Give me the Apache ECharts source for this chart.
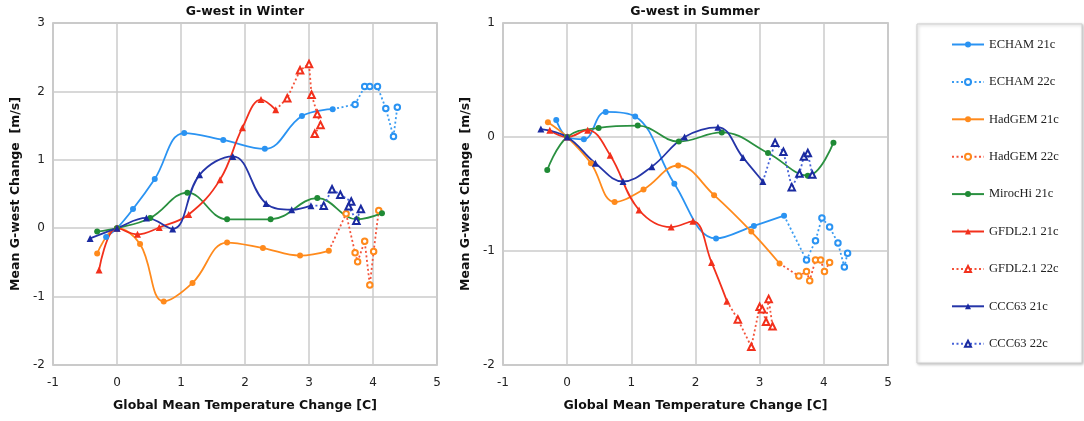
<!DOCTYPE html>
<html>
<head>
    <meta charset="utf-8" />
    <title>G-west</title>
    <style>
        html, body { margin: 0; padding: 0; background: #fff; }
        #main { width: 1084px; height: 421px; }
    </style>
    <script src="https://cdn.jsdelivr.net/npm/echarts@6/dist/echarts.min.js"></script>
</head>
<body>
    <div id="main"></div>
    <script type="text/javascript">
        // data: [temperature change, G-west change]
        const echamW21 = [[-0.17, -0.13], [0, 0], [0.25, 0.28], [0.59, 0.72], [1.05, 1.39], [1.66, 1.29], [2.31, 1.16], [2.89, 1.64], [3.37, 1.74]];
        const echamW22 = [[3.72, 1.81], [3.87, 2.07], [3.95, 2.07], [4.07, 2.07], [4.2, 1.75], [4.32, 1.34], [4.38, 1.77]];
        const hadW21 = [[-0.31, -0.37], [0, 0], [0.36, -0.23], [0.73, -1.07], [1.18, -0.8], [1.72, -0.21], [2.28, -0.29], [2.86, -0.4], [3.31, -0.33]];
        const hadW22 = [[3.58, 0.21], [3.72, -0.36], [3.76, -0.49], [3.87, -0.19], [3.95, -0.83], [4.01, -0.34], [4.09, 0.26]];
        const mirocW21 = [[-0.31, -0.05], [0, 0], [0.52, 0.15], [1.1, 0.52], [1.72, 0.13], [2.4, 0.13], [3.13, 0.44], [3.75, 0.13], [4.14, 0.22]];
        const gfdlW21 = [[-0.28, -0.61], [0, 0], [0.32, -0.09], [0.66, 0.01], [1.12, 0.2], [1.61, 0.71], [1.96, 1.47], [2.25, 1.88], [2.48, 1.73]];
        const gfdlW22 = [[2.66, 1.9], [2.86, 2.31], [3.0, 2.4], [3.04, 1.95], [3.13, 1.67], [3.18, 1.51], [3.09, 1.38]];
        const cccW21 = [[-0.42, -0.15], [0, 0], [0.46, 0.15], [0.87, -0.01], [1.29, 0.78], [1.81, 1.05], [2.33, 0.36], [2.73, 0.27], [3.03, 0.33]];
        const cccW22 = [[3.23, 0.33], [3.36, 0.57], [3.49, 0.49], [3.66, 0.39], [3.62, 0.32], [3.74, 0.11], [3.81, 0.28]];

        const echamS21 = [[-0.17, 0.15], [0, 0], [0.26, -0.02], [0.6, 0.22], [1.06, 0.18], [1.67, -0.41], [2.32, -0.89], [2.91, -0.78], [3.38, -0.69]];
        const echamS22 = [[3.73, -1.08], [3.87, -0.91], [3.97, -0.71], [4.09, -0.79], [4.22, -0.93], [4.32, -1.14], [4.37, -1.02]];
        const hadS21 = [[-0.3, 0.13], [0, 0], [0.37, -0.23], [0.74, -0.57], [1.19, -0.46], [1.73, -0.25], [2.29, -0.51], [2.87, -0.83], [3.31, -1.11]];
        const hadS22 = [[3.61, -1.22], [3.73, -1.18], [3.78, -1.26], [3.87, -1.08], [3.95, -1.08], [4.01, -1.18], [4.09, -1.1]];
        const mirocS21 = [[-0.31, -0.29], [0, 0], [0.49, 0.08], [1.1, 0.1], [1.74, -0.04], [2.41, 0.04], [3.13, -0.14], [3.75, -0.34], [4.15, -0.05]];
        const gfdlS21 = [[-0.27, 0.06], [0, 0], [0.32, 0.06], [0.67, -0.16], [1.12, -0.64], [1.62, -0.79], [1.96, -0.74], [2.25, -1.1], [2.49, -1.44]];
        const gfdlS22 = [[2.66, -1.6], [2.87, -1.84], [3.0, -1.49], [3.04, -1.51], [3.1, -1.62], [3.14, -1.42], [3.2, -1.66]];
        const cccS21 = [[-0.41, 0.07], [0, 0], [0.44, -0.23], [0.87, -0.39], [1.32, -0.26], [1.83, 0.0], [2.35, 0.085], [2.74, -0.18], [3.05, -0.39]];
        const cccS22 = [[3.24, -0.05], [3.37, -0.13], [3.5, -0.44], [3.62, -0.32], [3.69, -0.17], [3.75, -0.14], [3.82, -0.33]];

        const winter = { echam21: echamW21, echam22: echamW22, had21: hadW21, had22: hadW22, miroc21: mirocW21, gfdl21: gfdlW21, gfdl22: gfdlW22, ccc21: cccW21, ccc22: cccW22 };
        const summer = { echam21: echamS21, echam22: echamS22, had21: hadS21, had22: hadS22, miroc21: mirocS21, gfdl21: gfdlS21, gfdl22: gfdlS22, ccc21: cccS21, ccc22: cccS22 };

        // legend order, symbols and colours
        const defs = [
            { key: 'echam21', name: 'ECHAM 21c', color: '#2a93f2', line: '#2a93f2', symbol: 'circle' },
            { key: 'echam22', name: 'ECHAM 22c', color: '#2a93f2', line: '#3a9cf2', symbol: 'emptyCircle', from: 'echam21' },
            { key: 'had21', name: 'HadGEM 21c', color: '#ff8a1c', line: '#ff8a1c', symbol: 'circle' },
            { key: 'had22', name: 'HadGEM 22c', color: '#ff8a1c', line: '#f4533a', symbol: 'emptyCircle', from: 'had21' },
            { key: 'miroc21', name: 'MirocHi 21c', color: '#1f8a35', line: '#2a9040', symbol: 'circle' },
            { key: 'gfdl21', name: 'GFDL2.1 21c', color: '#f2301c', line: '#f2301c', symbol: 'triangle' },
            { key: 'gfdl22', name: 'GFDL2.1 22c', color: '#f2301c', line: '#f4533a', symbol: 'emptyTriangle', from: 'gfdl21' },
            { key: 'ccc21', name: 'CCC63 21c', color: '#1a2aa0', line: '#2535a8', symbol: 'triangle' },
            { key: 'ccc22', name: 'CCC63 22c', color: '#1a2aa0', line: '#4763d8', symbol: 'emptyTriangle', from: 'ccc21' }
        ];

        function buildSeries(set, idx) {
            return defs.map(function (d) {
                let data = set[d.key];
                if (d.from) {
                    // dotted part starts at the last 21c point
                    const prev = set[d.from];
                    data = [{ value: prev[prev.length - 1], symbol: 'none' }].concat(data);
                }
                const tri = d.symbol.indexOf('riangle') >= 0;
                return {
                    name: d.name,
                    type: 'line',
                    xAxisIndex: idx,
                    yAxisIndex: idx,
                    data: data,
                    smooth: d.from ? false : 0.4,
                    symbol: d.symbol,
                    symbolSize: d.from ? (tri ? 6.5 : 5.5) : (tri ? 7 : 6),
                    showAllSymbol: true,
                    itemStyle: { color: d.color, borderWidth: 1.3 },
                    lineStyle: { color: d.line, width: 1.8, type: d.from ? [2, 2.5] : 'solid' },
                    emphasis: { disabled: true },
                    z: 3
                };
            });
        }

        const axisFont = { fontFamily: 'DejaVu Sans', fontSize: 12, color: '#222' };
        const nameFont = { fontFamily: 'DejaVu Sans', fontSize: 12.5, fontWeight: 'bold', color: '#111' };
        const split = { show: true, lineStyle: { color: '#cbcbcb', width: 1.5 } };

        function xAxis(idx) {
            return {
                type: 'value', gridIndex: idx, min: -1, max: 5, interval: 1,
                axisLine: { show: false }, axisTick: { show: false },
                axisLabel: Object.assign({ margin: 12 }, axisFont),
                splitLine: split,
                name: 'Global Mean Temperature Change [C]', nameLocation: 'middle', nameGap: 34,
                nameTextStyle: nameFont
            };
        }
        function yAxis(idx, max) {
            return {
                type: 'value', gridIndex: idx, min: -2, max: max, interval: 1,
                axisLine: { show: false }, axisTick: { show: false },
                axisLabel: Object.assign({ margin: 8 }, axisFont),
                splitLine: split,
                name: 'Mean G-west Change  [m/s]', nameLocation: 'middle', nameGap: 31,
                nameTextStyle: nameFont
            };
        }

        const myChart = echarts.init(document.getElementById('main'));
        const option = {
            animation: false,
            grid: [
                { left: 53, top: 23, width: 384, height: 342, show: true, borderColor: '#b3b3b3', borderWidth: 1.5 },
                { left: 503, top: 23, width: 385, height: 342, show: true, borderColor: '#b3b3b3', borderWidth: 1.5 }
            ],
            xAxis: [xAxis(0), xAxis(1)],
            yAxis: [yAxis(0, 3), yAxis(1, 1)],
            legend: {
                orient: 'vertical', left: 946, top: 33,
                itemWidth: 32, itemHeight: 7.5, itemGap: 24.4,
                textStyle: { fontFamily: 'Liberation Serif', fontSize: 12.5, color: '#222' },
                data: defs.map(function (d) { return d.name; })
            },
            graphic: [
                {
                    type: 'rect', z: -1, silent: true,
                    shape: { x: 917, y: 24, width: 165, height: 339 },
                    style: { fill: '#fff', stroke: '#cfcfcf', lineWidth: 1, shadowBlur: 3, shadowColor: 'rgba(0,0,0,0.25)', shadowOffsetX: 1, shadowOffsetY: 1 }
                },
                {
                    type: 'text', x: 245, y: 12, silent: true,
                    style: { text: 'G-west in Winter', textAlign: 'center', textVerticalAlign: 'middle', font: 'bold 12.5px "DejaVu Sans"', fill: '#111' }
                },
                {
                    type: 'text', x: 695, y: 12, silent: true,
                    style: { text: 'G-west in Summer', textAlign: 'center', textVerticalAlign: 'middle', font: 'bold 12.5px "DejaVu Sans"', fill: '#111' }
                }
            ],
            series: buildSeries(winter, 0).concat(buildSeries(summer, 1))
        };
        myChart.setOption(option);
    </script>
</body>
</html>
